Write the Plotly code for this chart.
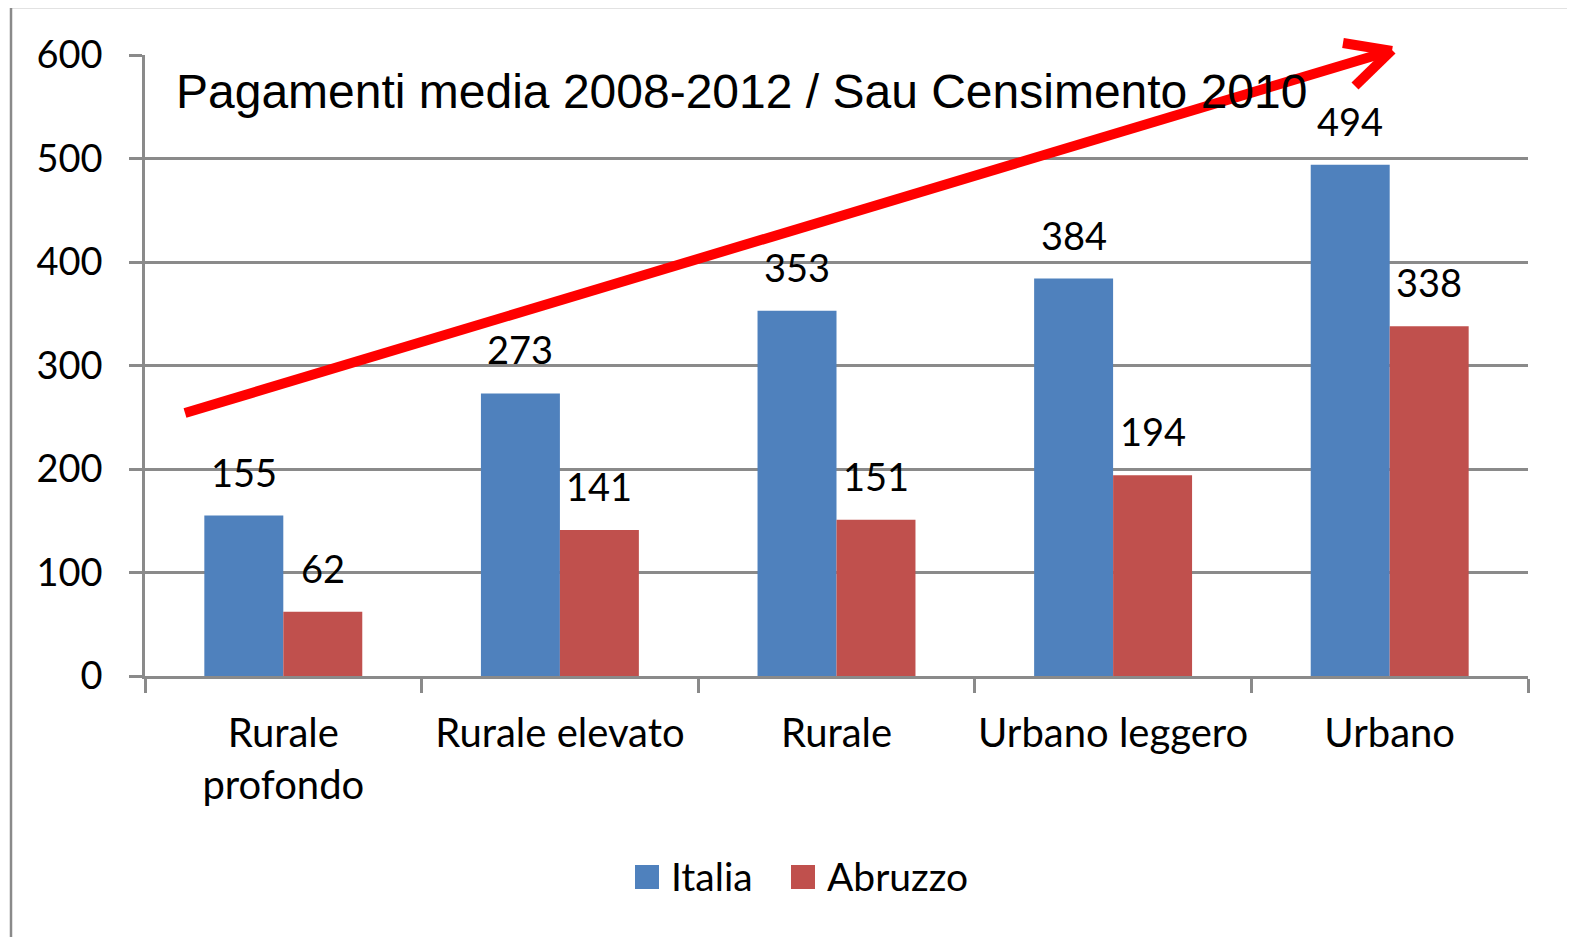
import plotly.graph_objects as go

# dati del grafico
categorie = ["Rurale<br>profondo", "Rurale elevato", "Rurale", "Urbano leggero", "Urbano"]
italia = [155, 273, 353, 384, 494]
abruzzo = [62, 141, 151, 194, 338]
serie = ["Italia", "Abruzzo"]
colori = ["#4F81BD", "#C0504D"]
titolo = "Pagamenti media 2008-2012 / Sau Censimento 2010"

# la pagina html ha 8px di margine: la figura è più piccola e le coordinate vengono spostate
O = 8
W, H = 1575 - O, 937 - O
L, R, T, B = 145, 1528, 55, 676  # area del grafico in pixel (riferimento)

def px(x):
    return (x - L) / (R - L)

def py(y):
    return (B - y) / (B - T)

CAL = "Lato, Carlito, Calibri, sans-serif"
GRIGIO = "#8a8a8a"

fig = go.Figure()
for nome, valori, col in zip(serie, [italia, abruzzo], colori):
    fig.add_trace(go.Bar(x=categorie, y=valori, name=nome, marker_color=col,
                         marker_line_width=0, showlegend=False))

# etichette dei valori sopra le barre
ann = []
for valori, dx in [(italia, -39.5), (abruzzo, 39.5)]:
    for c, v in zip(categorie, valori):
        ann.append(dict(x=c, y=v, text=str(v), showarrow=False, xshift=dx,
                        yanchor="bottom", yshift=19, font=dict(family=CAL, size=38, color="black")))

# titolo dentro il grafico
ann.append(dict(x=px(174), y=py(91), xref="paper", yref="paper", text=titolo, showarrow=False,
                xanchor="left", yanchor="middle",
                font=dict(family="Liberation Sans, Arial", size=48, color="black")))

# legenda fatta a mano (quadrati grandi come nell'originale)
shapes = []
leg = [(635, 669), (791, 825)]
for (sx, tx), nome, col in zip(leg, serie, colori):
    shapes.append(dict(type="rect", xref="paper", yref="paper", x0=px(sx), x1=px(sx + 24),
                       y0=py(865), y1=py(889), fillcolor=col, line_width=0))
    ann.append(dict(x=px(tx), y=py(876), xref="paper", yref="paper", text=nome, showarrow=False,
                    xanchor="left", yanchor="middle", font=dict(family=CAL, size=39, color="black")))

# freccia rossa
freccia = dict(type="line", xref="paper", yref="paper", line=dict(color="#FF0000", width=10))
tip = (1390, 51)
shapes.append(dict(freccia, x0=px(185), y0=py(413), x1=px(tip[0]), y1=py(tip[1])))
shapes.append(dict(freccia, x0=px(1343), y0=py(43), x1=px(tip[0] + 2), y1=py(tip[1])))
shapes.append(dict(freccia, x0=px(1355), y0=py(86), x1=px(tip[0] + 2), y1=py(tip[1] - 1)))

# bordo esterno
shapes.append(dict(type="rect", xref="paper", yref="paper", x0=px(11), x1=px(1572),
                   y0=py(7), y1=py(945), line=dict(color=GRIGIO, width=2.5), layer="below"))

fig.update_layout(
    width=W, height=H,
    margin=dict(l=L - O, r=1575 - R, t=T - O, b=937 - B),
    plot_bgcolor="white", paper_bgcolor="white",
    barmode="group", bargap=0.429, bargroupgap=0,
    annotations=ann, shapes=shapes,
    font=dict(family=CAL, size=38, color="black"),
)
fig.update_xaxes(showline=True, linecolor=GRIGIO, linewidth=2.5, showgrid=False,
                 ticks="outside", tickson="boundaries", ticklen=14, tickwidth=2.5, tickcolor=GRIGIO,
                 tickangle=0, ticklabelstandoff=20, tickfont=dict(family=CAL, size=40, color="black"))
fig.update_yaxes(range=[0, 600], dtick=100, showline=True, linecolor=GRIGIO, linewidth=2.5,
                 showgrid=True, gridcolor=GRIGIO, gridwidth=2.5, zeroline=False,
                 ticks="outside", ticklen=13, tickwidth=2.5, tickcolor=GRIGIO,
                 ticklabelstandoff=19, tickfont=dict(family=CAL, size=38, color="black"))

fig.write_html("out.html")
